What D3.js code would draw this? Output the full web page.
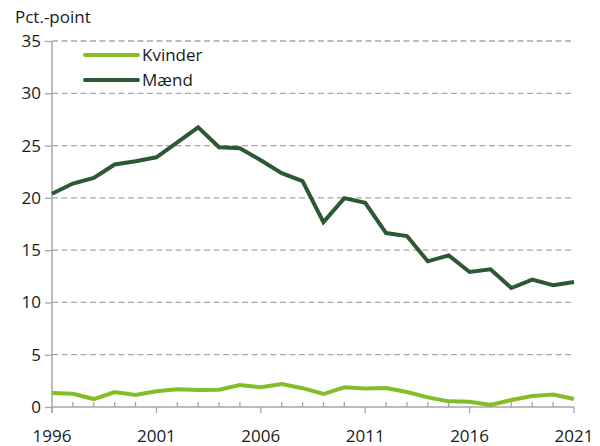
<!DOCTYPE html>
<html>
<head>
<meta charset="utf-8">
<script src="https://cdn.jsdelivr.net/npm/d3@7"></script>
<style>
  body { margin: 0; background: #fff; }
  text { font-family: "Open Sans", "Noto Sans", sans-serif; fill: #1a1a1a; }
</style>
</head>
<body>
<div id="chart"></div>
<script>
const width = 600, height = 446;
const margin = {top: 41, right: 26, bottom: 39, left: 52};

const years = d3.range(1996, 2022);
const kvinder = [1.34, 1.27, 0.76, 1.43, 1.15, 1.5, 1.69, 1.62, 1.65, 2.1, 1.88, 2.19, 1.8,
    1.24, 1.88, 1.78, 1.82, 1.43, 0.92, 0.54, 0.51, 0.19, 0.67, 1.05, 1.2, 0.76];
const maend = [20.4, 21.37, 21.9, 23.19, 23.5, 23.88, 25.3, 26.75, 24.84, 24.75, 23.6, 22.36, 21.6,
    17.68, 19.97, 19.53, 16.63, 16.35, 13.93, 14.5, 12.91, 13.17, 11.38, 12.18, 11.64, 11.96];
const yTicks = [0, 5, 10, 15, 20, 25, 30, 35];
const xLabels = [1996, 2001, 2006, 2011, 2016, 2021];

const series = [
    {name: "Kvinder", values: kvinder, color: "#84bd26"},
    {name: "Mænd", values: maend, color: "#2b5934"}
];

const svg = d3.select("#chart").append("svg")
    .attr("width", width)
    .attr("height", height);

const x = d3.scaleLinear().domain([1996, 2021]).range([margin.left, width - margin.right]);
const y = d3.scaleLinear().domain([0, 35]).range([height - margin.bottom, margin.top]);

// gridlines
svg.append("g")
    .selectAll("line")
    .data(yTicks.filter(d => d > 0))
    .enter().append("line")
    .attr("x1", margin.left)
    .attr("x2", width - margin.right - 3)
    .attr("y1", d => y(d))
    .attr("y2", d => y(d))
    .style("stroke", "#a6a6a6")
    .style("stroke-width", 1.3)
    .style("stroke-dasharray", "6,3.5");

// y axis
const yAxis = d3.axisLeft(y).tickValues(yTicks).tickSize(7).tickPadding(4);
const gy = svg.append("g")
    .attr("transform", "translate(" + margin.left + ",0)")
    .call(yAxis);
gy.select(".domain").remove();
gy.selectAll(".tick line").style("stroke", "#a6a6a6").style("stroke-width", 1.3);
gy.selectAll(".tick text").attr("font-size", 17).style("font-family", "'Open Sans', 'Noto Sans', sans-serif").style("fill", "#1a1a1a");
svg.append("line")
    .attr("x1", margin.left).attr("x2", margin.left)
    .attr("y1", y(35)).attr("y2", y(0) + 6)
    .style("stroke", "#a6a6a6").style("stroke-width", 1.5);

// x axis: minor ticks up, major ticks down
const gx = svg.append("g")
    .attr("transform", "translate(0," + y(0) + ")");
gx.append("line")
    .attr("x1", margin.left).attr("x2", x(2021))
    .style("stroke", "#a6a6a6").style("stroke-width", 1.5);
gx.selectAll(".minor")
    .data(years.filter(d => xLabels.indexOf(d) < 0))
    .enter().append("line")
    .attr("class", "minor")
    .attr("x1", d => x(d)).attr("x2", d => x(d))
    .attr("y1", 0).attr("y2", -5)
    .style("stroke", "#a6a6a6").style("stroke-width", 1.3);
gx.selectAll(".major")
    .data(xLabels)
    .enter().append("line")
    .attr("class", "major")
    .attr("x1", d => x(d)).attr("x2", d => x(d))
    .attr("y1", 0).attr("y2", 6)
    .style("stroke", "#a6a6a6").style("stroke-width", 1.3);
gx.selectAll("text")
    .data(xLabels)
    .enter().append("text")
    .attr("x", d => x(d))
    .attr("y", 35)
    .attr("text-anchor", "middle")
    .attr("font-size", 17)
    .text(d => d);

// unit label
svg.append("text")
    .attr("x", 15)
    .attr("y", 23)
    .attr("font-size", 17)
    .text("Pct.-point");

// lines
const line = d3.line()
    .x((d, i) => x(years[i]))
    .y(d => y(d));

series.forEach(s => {
    svg.append("path")
        .datum(s.values)
        .attr("d", line)
        .style("fill", "none")
        .style("stroke", s.color)
        .style("stroke-width", 4)
        .style("stroke-linejoin", "miter");
});

// legend
const legend = svg.append("g");
series.forEach((s, i) => {
    const ly = 55 + i * 25;
    legend.append("line")
        .attr("x1", 85).attr("x2", 138)
        .attr("y1", ly).attr("y2", ly)
        .style("stroke", s.color)
        .style("stroke-width", 4)
        .style("stroke-linecap", "round");
    legend.append("text")
        .attr("x", 142)
        .attr("y", ly + 6)
        .attr("font-size", 17)
        .text(s.name);
});
</script>
</body>
</html>
